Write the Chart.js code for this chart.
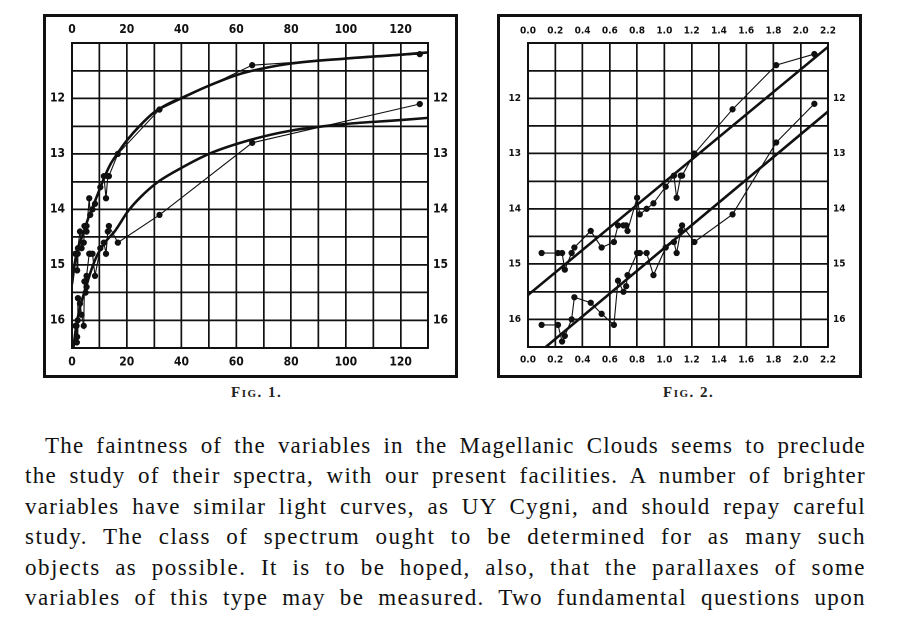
<!DOCTYPE html>
<html>
<head>
<meta charset="utf-8">
<script src="https://cdn.jsdelivr.net/npm/chart.js@4"></script>
<style>
  html, body { margin: 0; padding: 0; background: #fff; }
  body { width: 923px; height: 617px; position: relative; overflow: hidden; }
  .box { position: absolute; box-sizing: border-box; border: 3px solid #111; background: #fff; }
  .box canvas { position: absolute; left: 0; top: 0; }
  .cap { position: absolute; font-family: "Liberation Serif", serif; font-variant: small-caps; font-size: 15px; letter-spacing: 1.5px; color: #222; font-weight: bold; white-space: nowrap; }
  .line { position: absolute; left: 25px; width: 841px; font-family: "Liberation Serif", serif; font-size: 23px; color: #111; text-align: justify; text-align-last: justify; white-space: nowrap; line-height: 30px; }
  .probe { position: absolute; left: 0; top: -200px; font-family: "Liberation Serif", serif; font-size: 23px; white-space: nowrap; visibility: hidden; }
</style>
</head>
<body>
<div class="box" id="box1" style="left:43px; top:14px; width:415px; height:364px;"><canvas id="fig1" width="409" height="358"></canvas></div>
<div class="box" id="box2" style="left:497px; top:14px; width:365px; height:364px;"><canvas id="fig2" width="359" height="358"></canvas></div>
<div class="cap" style="left:231px; top:384px;">Fig. 1.</div>
<div class="cap" style="left:663px; top:384px;">Fig. 2.</div>
<div id="para"></div>
<script>
// ---- Data ----
// Periods in days (Fig. 1 x values)
const fig1Periods = [1.25, 1.66, 1.76, 1.88, 2.09, 2.17, 2.91, 3.50, 4.29, 4.55, 4.99, 5.31, 5.32, 6.29, 6.65, 7.48, 8.40, 10.34, 11.65, 12.42, 13.08, 13.47, 16.75, 31.94, 65.8, 127.0];
// Logarithm of period (Fig. 2 x values)
const fig2LogPeriods = [0.10, 0.22, 0.25, 0.27, 0.32, 0.34, 0.46, 0.54, 0.63, 0.66, 0.70, 0.72, 0.73, 0.80, 0.82, 0.87, 0.92, 1.01, 1.07, 1.09, 1.12, 1.13, 1.22, 1.50, 1.82, 2.10];
// Magnitude at maximum
const maxMagnitudes = [14.8, 14.8, 14.8, 15.1, 14.8, 14.7, 14.4, 14.7, 14.6, 14.3, 14.3, 14.3, 14.4, 13.8, 14.1, 14.0, 13.9, 13.6, 13.4, 13.8, 13.4, 13.4, 13.0, 12.2, 11.4, 11.2];
// Magnitude at minimum
const minMagnitudes = [16.1, 16.1, 16.4, 16.3, 16.0, 15.6, 15.7, 15.9, 16.1, 15.3, 15.5, 15.4, 15.2, 14.8, 14.8, 14.8, 15.2, 14.7, 14.6, 14.8, 14.4, 14.3, 14.6, 14.1, 12.8, 12.1];

// Smooth curves drawn in Fig. 1
const fig1UpperCurveX = [0, 1, 2, 4, 6, 8, 10, 12, 14, 16.5, 20, 25, 30, 35, 40, 50, 60, 65, 80, 100, 120, 130];
const fig1UpperCurveY = [15.35, 14.97, 14.73, 14.45, 14.15, 13.9, 13.65, 13.4, 13.19, 13.0, 12.76, 12.48, 12.25, 12.1, 11.99, 11.77, 11.58, 11.51, 11.37, 11.28, 11.21, 11.17];
const fig1LowerCurveX = [0.5, 1.5, 3, 5, 7, 9, 12, 15.7, 20.5, 25, 31, 37.5, 50, 65, 80, 100, 120, 130];
const fig1LowerCurveY = [16.5, 16.12, 15.75, 15.42, 15.1, 14.85, 14.6, 14.39, 14.03, 13.78, 13.52, 13.32, 13.0, 12.75, 12.58, 12.46, 12.39, 12.35];

// Straight lines drawn in Fig. 2
const fig2MaxFitX = [0, 2.2];
const fig2MaxFitY = [15.56, 11.07];
const fig2MinFitX = [0.13, 2.2];
const fig2MinFitY = [16.5, 12.24];

// Tick labels
const fig1XLabels = [0, 20, 40, 60, 80, 100, 120];
const fig2XLabels = ["0.0", "0.2", "0.4", "0.6", "0.8", "1.0", "1.2", "1.4", "1.6", "1.8", "2.0", "2.2"];
const magnitudeLabels = [12, 13, 14, 15, 16];

const paragraphLines = [
  "The faintness of the variables in the Magellanic Clouds seems to preclude",
  "the study of their spectra, with our present facilities.  A number of brighter",
  "variables have similar light curves, as UY Cygni, and should repay careful",
  "study.  The class of spectrum ought to be determined for as many such",
  "objects as possible.  It is to be hoped, also, that the parallaxes of some",
  "variables of this type may be measured.  Two fundamental questions upon"
];

// ---- Helpers ----
const INK = '#111';
function pts(xs, ys) { return xs.map((x, i) => ({ x: x, y: ys[i] })); }
function fixW(w) { return function (s) { s.width = w; }; }
function fixH(h) { return function (s) { s.height = h; }; }

function magCallback(v) {
  const r = Math.round(v * 10) / 10;
  return magnitudeLabels.indexOf(r) >= 0 ? String(r) : '';
}

function buildChart(id, cfg) {
  const tickFont = { family: '"DejaVu Sans Condensed", "DejaVu Sans", sans-serif', weight: 'bold', size: cfg.fontSize };
  const gridOpt = { color: INK, lineWidth: 1.7, drawTicks: false };
  const borderOpt = { display: true, color: INK, width: 2 };
  const xTicks = {
    stepSize: cfg.xStep, autoSkip: false, maxRotation: 0, minRotation: 0,
    color: INK, font: tickFont, callback: cfg.xCallback
  };
  const yTicks = { stepSize: 0.5, autoSkip: false, color: INK, font: tickFont, callback: magCallback };
  const pointStyle = { borderColor: INK, backgroundColor: INK, pointRadius: 2.6, pointHoverRadius: 2.6, borderWidth: 1.1, showLine: true, tension: 0 };
  const curveStyle = { borderColor: INK, backgroundColor: INK, pointRadius: 0, borderWidth: 2.6, showLine: true };
  return new Chart(document.getElementById(id), {
    type: 'scatter',
    data: {
      datasets: [
        Object.assign({ label: 'max', data: cfg.maxData }, pointStyle),
        Object.assign({ label: 'min', data: cfg.minData }, pointStyle),
        Object.assign({ label: 'upper', data: cfg.upper }, curveStyle, cfg.curveExtra),
        Object.assign({ label: 'lower', data: cfg.lower }, curveStyle, cfg.curveExtra)
      ]
    },
    options: {
      responsive: false,
      animation: false,
      devicePixelRatio: 2,
      layout: { padding: 0 },
      plugins: { legend: { display: false }, tooltip: { enabled: false } },
      scales: {
        x: {
          type: 'linear', position: 'bottom', min: cfg.xMin, max: cfg.xMax,
          grid: gridOpt, border: borderOpt,
          ticks: Object.assign({ padding: cfg.padB }, xTicks),
          afterFit: fixH(cfg.hB)
        },
        x2: {
          type: 'linear', position: 'top', min: cfg.xMin, max: cfg.xMax,
          grid: { display: false, drawTicks: false }, border: borderOpt,
          ticks: Object.assign({ padding: cfg.padT }, xTicks),
          afterFit: fixH(cfg.hT)
        },
        y: {
          type: 'linear', position: 'left', min: 11, max: 16.5, reverse: true,
          grid: gridOpt, border: borderOpt,
          ticks: Object.assign({ padding: cfg.padL }, yTicks),
          afterFit: fixW(cfg.wL)
        },
        y2: {
          type: 'linear', position: 'right', min: 11, max: 16.5, reverse: true,
          grid: { display: false, drawTicks: false }, border: borderOpt,
          ticks: Object.assign({ padding: cfg.padR }, yTicks),
          afterFit: fixW(cfg.wR)
        }
      }
    }
  });
}

buildChart('fig1', {
  maxData: pts(fig1Periods, maxMagnitudes),
  minData: pts(fig1Periods, minMagnitudes),
  upper: pts(fig1UpperCurveX, fig1UpperCurveY),
  lower: pts(fig1LowerCurveX, fig1LowerCurveY),
  curveExtra: { cubicInterpolationMode: 'monotone' },
  xMin: 0, xMax: 130, xStep: 10,
  xCallback: function (v) { return fig1XLabels.indexOf(Math.round(v)) >= 0 ? String(Math.round(v)) : ''; },
  fontSize: 12,
  wL: 26, wR: 27, hT: 26, hB: 27,
  padL: 7, padR: 5, padT: 6, padB: 7
});

buildChart('fig2', {
  maxData: pts(fig2LogPeriods, maxMagnitudes),
  minData: pts(fig2LogPeriods, minMagnitudes),
  upper: pts(fig2MaxFitX, fig2MaxFitY),
  lower: pts(fig2MinFitX, fig2MinFitY),
  curveExtra: { tension: 0 },
  xMin: 0, xMax: 2.2, xStep: 0.2,
  xCallback: function (v) { const i = Math.round(v / 0.2); return fig2XLabels[i] !== undefined ? fig2XLabels[i] : ''; },
  fontSize: 10,
  wL: 28, wR: 31, hT: 26, hB: 28,
  padL: 7, padR: 5, padT: 6, padB: 7
});

// ---- Paragraph ----
const para = document.getElementById('para');
paragraphLines.forEach(function (t, i) {
  const left = i === 0 ? 45 : 25;
  const width = 866 - left;
  // measure natural width, then widen glyph spacing a little (Computer Modern is wider than Times)
  const probe = document.createElement('span');
  probe.className = 'probe';
  probe.textContent = t;
  document.body.appendChild(probe);
  const natural = probe.getBoundingClientRect().width;
  document.body.removeChild(probe);
  const slack = width - natural;
  const ls = slack > 0 ? Math.min(1.5, (slack * 0.6) / t.length) : 0;
  const d = document.createElement('div');
  d.className = 'line';
  d.textContent = t;
  d.style.top = Math.round(431 + 30.4 * i) + 'px';
  d.style.left = left + 'px';
  d.style.width = width + 'px';
  d.style.letterSpacing = ls.toFixed(2) + 'px';
  para.appendChild(d);
});
</script>
</body>
</html>
